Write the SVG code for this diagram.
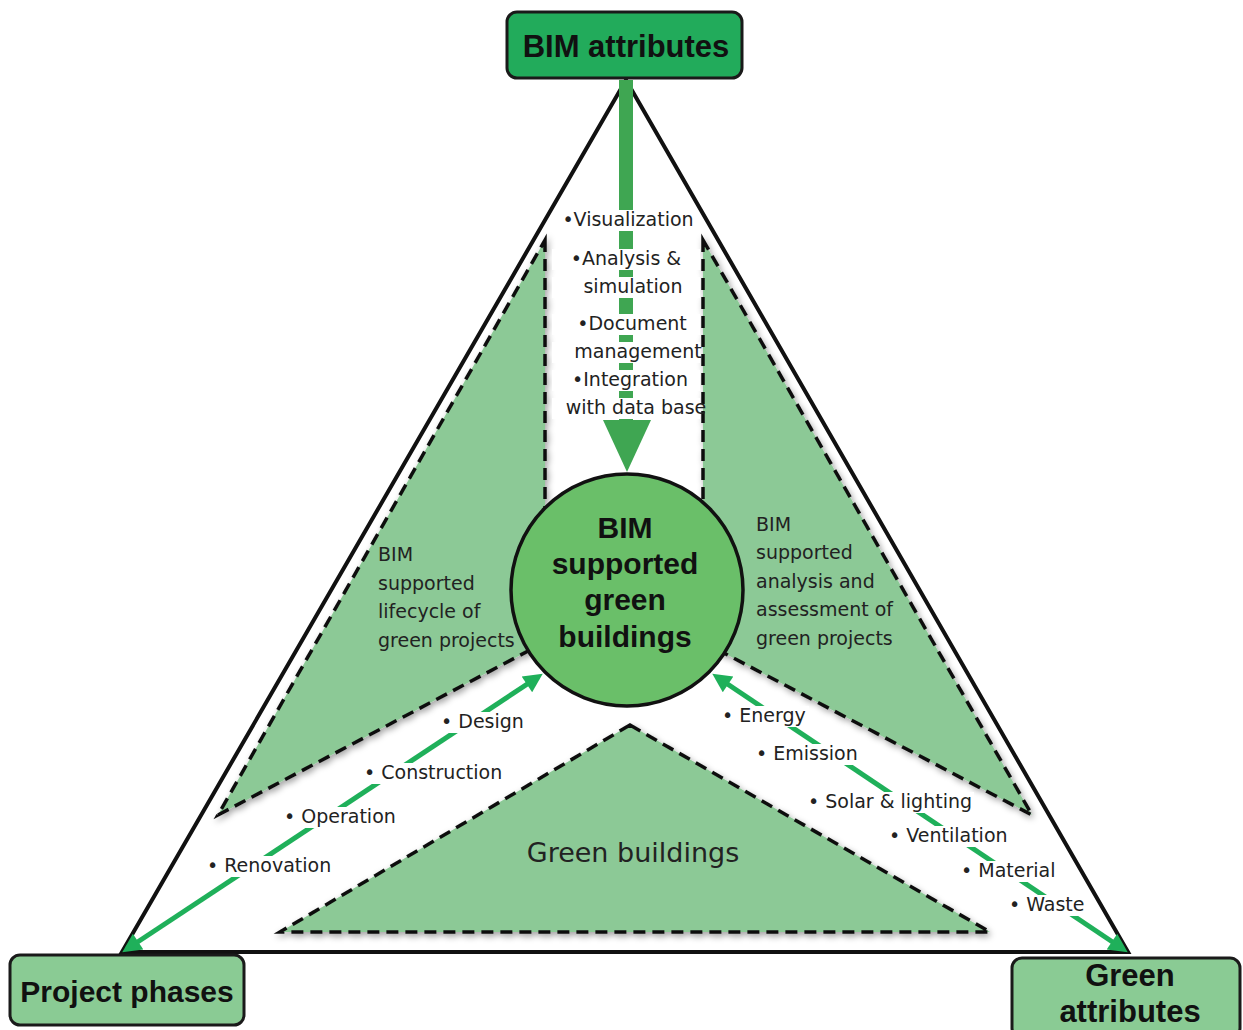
<svg xmlns="http://www.w3.org/2000/svg" width="1243" height="1030" viewBox="0 0 1243 1030">
<style>
.tri{fill:#fff;stroke:#111;stroke-width:4;stroke-linejoin:miter}
.zone{fill:#8cc996;stroke:#111;stroke-width:3.5;stroke-dasharray:12 7;filter:url(#sh)}
.box{stroke:#1a1a1a;stroke-width:3}
.bold{font-family:"Liberation Sans",Arial,sans-serif;font-weight:bold;fill:#111;text-anchor:middle}
.t{font-family:"DejaVu Sans","Liberation Sans",sans-serif;font-size:19px;fill:#222}
.m{text-anchor:middle}
.bg{fill:#fff}
.gl{stroke:#1fb05a;stroke-width:5;fill:none;marker-start:url(#ah);marker-end:url(#ah)}
</style>
<defs>
<filter id="sh" x="-10%" y="-10%" width="130%" height="130%">
<feDropShadow dx="2" dy="3" stdDeviation="3" flood-color="#000" flood-opacity="0.35"/>
</filter>
<marker id="ah" viewBox="0 0 10 10" refX="7" refY="5" markerUnits="strokeWidth" markerWidth="4.6" markerHeight="3.8" orient="auto-start-reverse">
<path d="M0,0 L10,5 L0,10 z" fill="#1fb05a"/>
</marker>
</defs>
<rect width="1243" height="1030" fill="#fff"/>

<g id="frame">
<polygon class="tri" points="626,80 122,952 1128,952"/>
</g>

<g id="zone-lifecycle">
<polygon class="zone" points="545,240 545,642 218,815"/>
</g>
<g id="zone-analysis">
<polygon class="zone" points="703,240 703,642 1032,815"/>
</g>
<g id="zone-green-buildings">
<polygon class="zone" points="630,725 280,932 990,932"/>
<text class="t m" x="633" y="862" style="font-size:27px">Green buildings</text>
</g>

<g id="connectors">
<rect x="619" y="80" width="14" height="342" fill="#3fa652"/>
<polygon points="603,420 651,420 627,472" fill="#3fa652"/>
<line class="gl" x1="127" y1="949" x2="538" y2="677"/>
<line class="gl" x1="1123" y1="949" x2="717" y2="677"/>
</g>

<g id="bim-attribute-list">
<rect class="bg" x="555" y="210" width="142" height="21"/>
<rect class="bg" x="552" y="249" width="148" height="21"/>
<rect class="bg" x="552" y="277" width="148" height="21"/>
<rect class="bg" x="552" y="314" width="148" height="21"/>
<rect class="bg" x="552" y="342" width="148" height="21"/>
<rect class="bg" x="552" y="370" width="148" height="21"/>
<rect class="bg" x="552" y="398" width="148" height="21"/>
<text class="t m" x="628" y="226">•Visualization</text>
<text class="t m" x="626" y="265">•Analysis &amp;</text>
<text class="t m" x="633" y="293">simulation</text>
<text class="t m" x="632" y="330">•Document</text>
<text class="t m" x="638" y="358">management</text>
<text class="t m" x="630" y="386">•Integration</text>
<text class="t m" x="636" y="414">with data base</text>
</g>

<g id="phase-list">
<rect class="bg" x="438" y="712" width="88" height="21"/>
<rect class="bg" x="361" y="763" width="144" height="21"/>
<rect class="bg" x="281" y="807" width="117" height="21"/>
<rect class="bg" x="204" y="856" width="130" height="21"/>
<text class="t" x="441" y="728">• Design</text>
<text class="t" x="364" y="779">• Construction</text>
<text class="t" x="284" y="823">• Operation</text>
<text class="t" x="207" y="872">• Renovation</text>
</g>

<g id="green-attribute-list">
<rect class="bg" x="719" y="706" width="90" height="21"/>
<rect class="bg" x="753" y="744" width="107" height="21"/>
<rect class="bg" x="805" y="792" width="169" height="21"/>
<rect class="bg" x="886" y="826" width="125" height="21"/>
<rect class="bg" x="958" y="861" width="99" height="21"/>
<rect class="bg" x="1006" y="895" width="82" height="21"/>
<text class="t" x="722" y="722">• Energy</text>
<text class="t" x="756" y="760">• Emission</text>
<text class="t" x="808" y="808">• Solar &amp; lighting</text>
<text class="t" x="889" y="842">• Ventilation</text>
<text class="t" x="961" y="877">• Material</text>
<text class="t" x="1009" y="911">• Waste</text>
</g>

<g id="label-lifecycle">
<text class="t" x="378" y="561">BIM</text>
<text class="t" x="378" y="590">supported</text>
<text class="t" x="378" y="618">lifecycle of</text>
<text class="t" x="378" y="647">green projects</text>
</g>
<g id="label-analysis">
<text class="t" x="756" y="531">BIM</text>
<text class="t" x="756" y="559">supported</text>
<text class="t" x="756" y="588">analysis and</text>
<text class="t" x="756" y="616">assessment of</text>
<text class="t" x="756" y="645">green projects</text>
</g>

<g id="center">
<circle cx="627" cy="590" r="116" fill="#6abf69" stroke="#111" stroke-width="3.5"/>
<text class="bold" x="625" y="538" style="font-size:30px">BIM</text>
<text class="bold" x="625" y="574" style="font-size:30px">supported</text>
<text class="bold" x="625" y="610" style="font-size:30px">green</text>
<text class="bold" x="625" y="647" style="font-size:30px">buildings</text>
</g>

<g id="bim-attributes">
<rect class="box" x="507" y="12" width="235" height="66" rx="10" fill="#22ab5b"/>
<text class="bold" x="626" y="57" style="font-size:31px">BIM attributes</text>
</g>
<g id="project-phases">
<rect class="box" x="10" y="955" width="234" height="70" rx="10" fill="#8acb94"/>
<text class="bold" x="127" y="1002" style="font-size:30px">Project phases</text>
</g>
<g id="green-attributes">
<rect class="box" x="1012" y="958" width="228" height="80" rx="10" fill="#8acb94"/>
<text class="bold" x="1130" y="986" style="font-size:31px">Green</text>
<text class="bold" x="1130" y="1022" style="font-size:31px">attributes</text>
</g>
</svg>
